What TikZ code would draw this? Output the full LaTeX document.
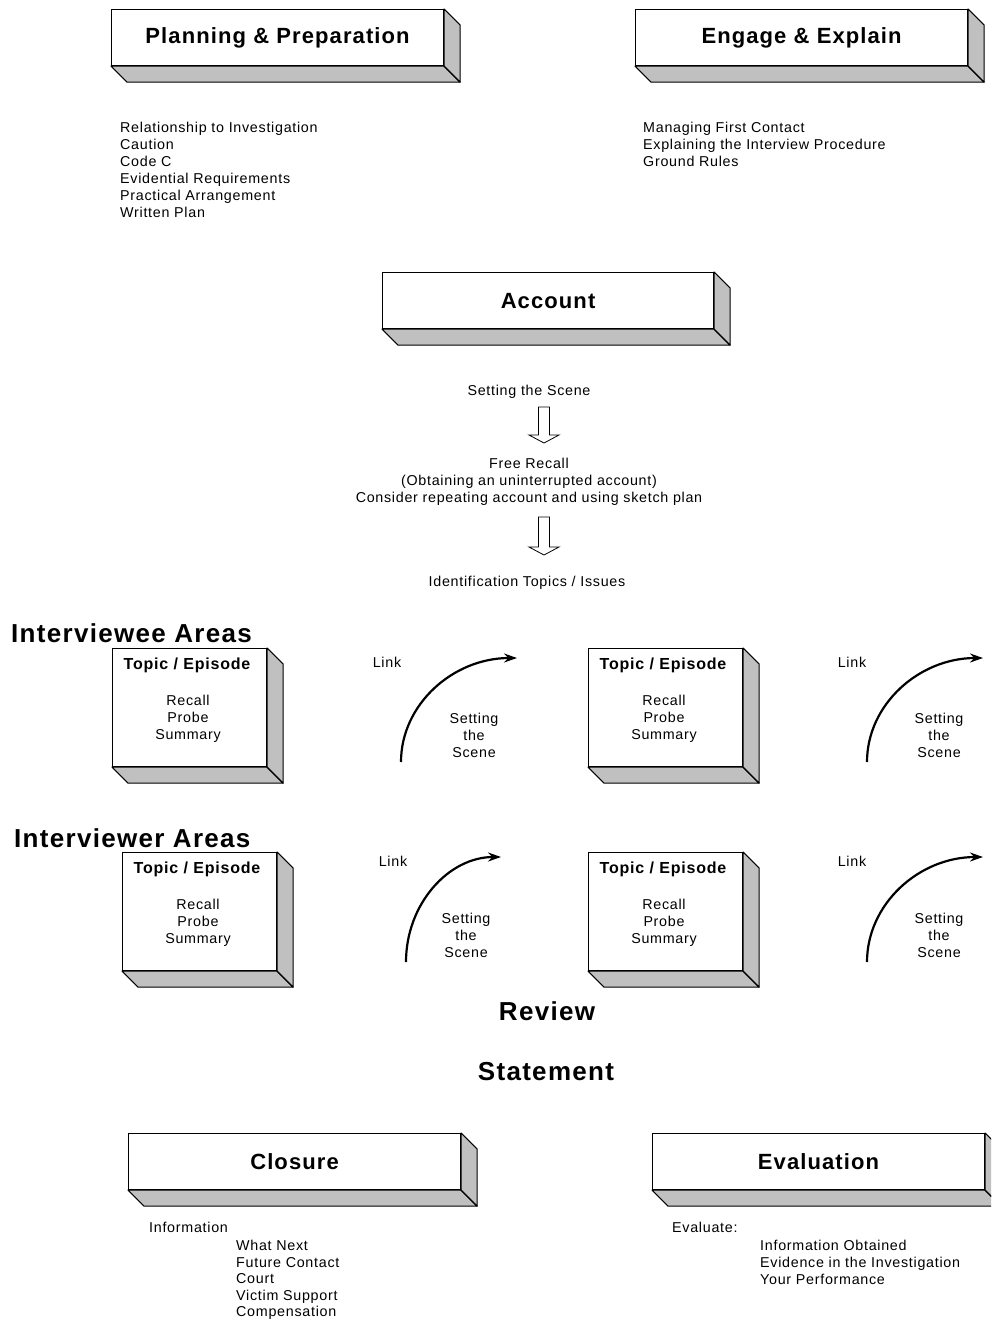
\documentclass[tikz,border=0pt]{standalone}
\usepackage{fontspec}
\setmainfont{Liberation Sans}
\newfontfamily\bodyfont[LetterSpace=5]{Liberation Sans}
\newfontfamily\headfont[LetterSpace=5]{Liberation Sans}
\usetikzlibrary{calc,arrows.meta}

\definecolor{sidegray}{HTML}{C0C0C0}

\tikzset{
  slabfront/.style={draw=black, line width=1.1pt, fill=white, inner sep=0pt},
  slabside/.style={draw=black, line width=1.1pt, fill=sidegray, line join=round},
  body/.style={font=\bodyfont\fontsize{14.3}{17}\selectfont, inner sep=0pt, text=black},
  bodyc/.style={body, align=center, anchor=north},
  bodyl/.style={body, align=left, anchor=north west},
  title/.style={font=\headfont\bfseries\fontsize{22}{26}\selectfont, text=black},
  boxhead/.style={font=\headfont\bfseries\fontsize{16}{19}\selectfont, inner sep=0pt, text=black},
  bighead/.style={font=\headfont\bfseries\fontsize{26}{30}\selectfont, inner sep=0pt, text=black},
  hollow/.style={draw=black, line width=0.8pt, fill=white, line join=miter},
  linkarrow/.style={draw=black, line width=2.2pt, -{Stealth[length=13pt,width=9pt]}},
}

% raised slab: front face as a node, bottom and right faces as gray polygons
\newcommand\slab[6]{%
  \node[slabfront, minimum width=#4pt, minimum height=#5pt, anchor=north west] (#1) at (#2,#3) {};
  \draw[slabside] (#1.south west) -- ++(16,16) -- ($(#1.south east)+(16,16)$) -- (#1.south east) -- cycle;
  \draw[slabside] (#1.north east) -- ++(16,16) -- ($(#1.south east)+(16,16)$) -- (#1.south east) -- cycle;
  \node[title] (#1-t) at (#1) {#6};
}

% hollow down arrow: centre x, top, start of head, tip
\newcommand\hollowdown[4]{%
  \draw[hollow] (#1-5.5,#2) -- (#1+5.5,#2) -- (#1+5.5,#3) -- (#1+15,#3) -- (#1,#4)
    -- (#1-15,#3) -- (#1-5.5,#3) -- cycle;
}

% topic box with its three stages
\newcommand\topicbox[3]{%
  \slab{#1}{#2}{#3}{154}{118}{}
  \node[boxhead] (#1-h) at ($(#1.north west)+(75,17)$) {Topic / Episode};
  \node[bodyc] (#1-l) at ($(#1.north west)+(76,47)$) {Recall\\Probe\\Summary};
}

% curved link arrow with its labels: name, start x, start y, x radius, y radius, link pos, scene pos
\newcommand\linkarc[7]{%
  \coordinate (#1-s) at (#2,#3);
  \draw[linkarrow] (#1-s) arc[start angle=180, end angle=270, x radius=#4, y radius=#5];
  \node[body] (#1-link) at (#6) {Link};
  \node[bodyc] (#1-scene) at (#7) {Setting\\the\\Scene};
}

\begin{document}
\begin{tikzpicture}[x=1pt, y={(0pt,-1pt)}]
  \useasboundingbox (0,0) rectangle (991,1319);
  \clip (0,0) rectangle (991,1319);

  % planning and engagement
  \slab{plan}{111}{9}{332}{56}{Planning \& Preparation}
  \slab{engage}{635}{9}{332}{56}{Engage \& Explain}
  \node[bodyl] (plan-list) at (120,122) {Relationship to Investigation\\Caution\\Code C\\Evidential Requirements\\Practical Arrangement\\Written Plan};
  \node[bodyl] (engage-list) at (643,122) {Managing First Contact\\Explaining the Interview Procedure\\Ground Rules};

  % account
  \slab{account}{382}{272}{331}{56}{Account}
  \node[body] (scene) at (529,392) {Setting the Scene};
  \hollowdown{544}{407}{435}{443}
  \node[bodyc] (recall) at (529,458) {Free Recall\\(Obtaining an uninterrupted account)\\Consider repeating account and using sketch plan};
  \hollowdown{544}{517}{547}{555}
  \node[body] (topics) at (527,583) {Identification Topics / Issues};

  % interviewee areas
  \node[bighead, anchor=west] (ee) at (11,633) {Interviewee Areas};
  \topicbox{ee1}{112}{648}
  \topicbox{ee2}{588}{648}
  \linkarc{eea}{401}{762}{116}{104}{387,662}{474,713}
  \linkarc{eeb}{867}{762}{116}{104}{852,662}{939,713}

  % interviewer areas
  \node[bighead, anchor=west] (er) at (14,838) {Interviewer Areas};
  \topicbox{er1}{122}{852}
  \topicbox{er2}{588}{852}
  \linkarc{era}{406}{962}{95}{105}{393,861}{466,913}
  \linkarc{erb}{867}{962}{116}{105}{852,861}{939,913}

  \node[bighead] (review) at (547,1011) {Review};
  \node[bighead] (statement) at (546,1072) {Statement};

  % closure and evaluation
  \slab{closure}{128}{1133}{332}{56}{Closure}
  \slab{evaluation}{652}{1133}{332}{56}{Evaluation}
  \node[bodyl, font=\bodyfont\fontsize{14.3}{16.6}\selectfont] (info) at (149,1222) {Information};
  \node[bodyl, font=\bodyfont\fontsize{14.3}{16.6}\selectfont] (info-list) at (236,1240) {What Next\\Future Contact\\Court\\Victim Support\\Compensation};
  \node[bodyl] (eval) at (672,1222) {Evaluate:};
  \node[bodyl] (eval-list) at (760,1240) {Information Obtained\\Evidence in the Investigation\\Your Performance};
\end{tikzpicture}
\end{document}
